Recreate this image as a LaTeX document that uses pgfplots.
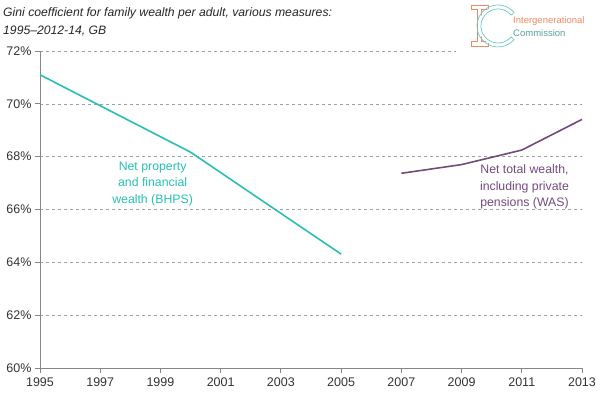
\documentclass[border=0pt]{standalone}
\usepackage{pgfplots}
\pgfplotsset{compat=1.18}
\usepackage{fontspec}
\setmainfont{Liberation Sans}
\definecolor{teal1}{RGB}{38,192,182}
\definecolor{purp}{RGB}{116,74,124}
\definecolor{gridg}{RGB}{160,160,160}
\definecolor{axg}{RGB}{135,135,135}
\definecolor{orng}{RGB}{240,138,98}
\definecolor{lteal}{RGB}{110,200,200}
\begin{document}
\begin{tikzpicture}[x=1pt,y=1pt]
\useasboundingbox (0,0) rectangle (605,397);
\begin{axis}[at={(40pt,29pt)}, anchor=south west, scale only axis,
  width=542pt, height=317pt,
  xmin=1995, xmax=2013, ymin=60, ymax=72,
  xtick={1995,1997,...,2013}, ytick={60,62,...,72},
  axis x line=bottom, axis y line=left,
  axis line style={axg,-,line width=0.8pt},
  tick align=outside, major tick length=5pt,
  tick style={axg,line width=0.8pt},
  ymajorgrids, grid style={gridg,dashed,line width=0.6pt},
  /pgf/number format/assume math mode=true,
  x tick label style={/pgf/number format/1000 sep=, font=\fontsize{12.5}{13}\selectfont, text=black!80, yshift=-1pt},
  y tick label style={font=\fontsize{12.5}{13}\selectfont, text=black!80, xshift=0pt},
  yticklabel={\pgfmathprintnumber[fixed,precision=0]{\tick}\%},
  clip=false,
]
\addplot[teal1, line width=1.6pt] coordinates {(1995,71.1) (2000,68.17) (2005,64.31)};
\addplot[purp, line width=1.6pt] coordinates {(2007,67.37) (2009,67.70) (2011,68.25) (2013,69.41)};
\node[teal1, align=center, font=\fontsize{12.3}{16.5}\selectfont] at (axis cs:1998.74,66.98) {Net property\\and financial\\wealth (BHPS)};
\node[purp, align=center, font=\fontsize{12.3}{16.5}\selectfont] at (axis cs:2011.09,66.85) {Net total wealth,\\including private\\pensions (WAS)};
\end{axis}
% title
\node[anchor=base west, font=\fontsize{12.2}{13}\itshape, text=black!85, inner sep=0] at (3,380) {Gini coefficient for family wealth per adult, various measures:};
\node[anchor=base west, font=\fontsize{12.2}{13}\itshape, text=black!85, inner sep=0] at (3,362) {1995--2012-14, GB};
% logo
\fill[white] (456,345) rectangle (605,397);
\draw[orng, line width=0.7pt] (471,392) -- (488,392) -- (488,388) -- (481,388) -- (481,356) -- (488,356) -- (488,351) -- (471,351) -- (471,356) -- (477,356) -- (477,388) -- (471,388) -- cycle;
\fill[white] (498,371) circle (19.5);
\draw[lteal, line width=0.7pt] ([shift={(40:21)}]498,371) arc (40:320:21);
\draw[lteal, line width=0.7pt] ([shift={(40:17)}]498,371) arc (40:320:17);
\draw[lteal, line width=0.7pt] ([shift={(40:17)}]498,371) -- ([shift={(40:21)}]498,371);
\draw[lteal, line width=0.7pt] ([shift={(320:17)}]498,371) -- ([shift={(320:21)}]498,371);
\node[anchor=base west, font=\fontsize{9.5}{10}\selectfont, text=orng, inner sep=0] at (513,373) {Intergenerational};
\node[anchor=base west, font=\fontsize{9.5}{10}\selectfont, text=lteal!80!black, inner sep=0] at (513,360) {Commission};
\end{tikzpicture}
\end{document}
